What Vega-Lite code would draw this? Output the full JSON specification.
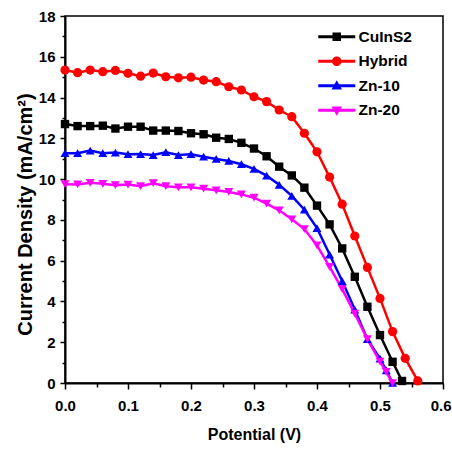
{
  "$schema": "https://vega.github.io/schema/vega-lite/v6.json",
  "width": 378,
  "height": 367,
  "autosize": {"type": "none"},
  "padding": {"left": 65, "top": 16, "right": 9, "bottom": 67},
  "background": "white",
  "config": {
    "view": {"stroke": "black", "strokeWidth": 1.5},
    "axis": {
      "grid": false,
      "domainColor": "black",
      "domainWidth": 2,
      "tickColor": "black",
      "tickWidth": 1.5,
      "labelColor": "black",
      "labelFont": "Liberation Sans",
      "labelFontWeight": "bold",
      "labelFontSize": 15,
      "titleColor": "black",
      "titleFont": "Liberation Sans",
      "titleFontWeight": "bold"
    }
  },
  "datasets": {
    "jv": [
      {"series": "CuInS2", "v": 0.00, "j": 12.7},
      {"series": "CuInS2", "v": 0.02, "j": 12.6},
      {"series": "CuInS2", "v": 0.04, "j": 12.6},
      {"series": "CuInS2", "v": 0.06, "j": 12.62},
      {"series": "CuInS2", "v": 0.08, "j": 12.48},
      {"series": "CuInS2", "v": 0.10, "j": 12.57},
      {"series": "CuInS2", "v": 0.12, "j": 12.57},
      {"series": "CuInS2", "v": 0.14, "j": 12.38},
      {"series": "CuInS2", "v": 0.16, "j": 12.38},
      {"series": "CuInS2", "v": 0.18, "j": 12.36},
      {"series": "CuInS2", "v": 0.20, "j": 12.25},
      {"series": "CuInS2", "v": 0.22, "j": 12.2},
      {"series": "CuInS2", "v": 0.24, "j": 12.03},
      {"series": "CuInS2", "v": 0.26, "j": 11.97},
      {"series": "CuInS2", "v": 0.28, "j": 11.78},
      {"series": "CuInS2", "v": 0.30, "j": 11.5},
      {"series": "CuInS2", "v": 0.32, "j": 11.12},
      {"series": "CuInS2", "v": 0.34, "j": 10.61},
      {"series": "CuInS2", "v": 0.36, "j": 10.18},
      {"series": "CuInS2", "v": 0.38, "j": 9.58},
      {"series": "CuInS2", "v": 0.40, "j": 8.7},
      {"series": "CuInS2", "v": 0.42, "j": 7.78},
      {"series": "CuInS2", "v": 0.44, "j": 6.6},
      {"series": "CuInS2", "v": 0.46, "j": 5.21},
      {"series": "CuInS2", "v": 0.48, "j": 3.74},
      {"series": "CuInS2", "v": 0.50, "j": 2.35},
      {"series": "CuInS2", "v": 0.52, "j": 1.04},
      {"series": "CuInS2", "v": 0.535, "j": 0.1},
      {"series": "Hybrid", "v": 0.00, "j": 15.35},
      {"series": "Hybrid", "v": 0.02, "j": 15.22},
      {"series": "Hybrid", "v": 0.04, "j": 15.35},
      {"series": "Hybrid", "v": 0.06, "j": 15.27},
      {"series": "Hybrid", "v": 0.08, "j": 15.33},
      {"series": "Hybrid", "v": 0.10, "j": 15.19},
      {"series": "Hybrid", "v": 0.12, "j": 15.05},
      {"series": "Hybrid", "v": 0.14, "j": 15.2},
      {"series": "Hybrid", "v": 0.16, "j": 15.02},
      {"series": "Hybrid", "v": 0.18, "j": 14.97},
      {"series": "Hybrid", "v": 0.20, "j": 15.0},
      {"series": "Hybrid", "v": 0.22, "j": 14.86},
      {"series": "Hybrid", "v": 0.24, "j": 14.78},
      {"series": "Hybrid", "v": 0.26, "j": 14.53},
      {"series": "Hybrid", "v": 0.28, "j": 14.37},
      {"series": "Hybrid", "v": 0.30, "j": 14.04},
      {"series": "Hybrid", "v": 0.32, "j": 13.8},
      {"series": "Hybrid", "v": 0.34, "j": 13.39},
      {"series": "Hybrid", "v": 0.36, "j": 13.06},
      {"series": "Hybrid", "v": 0.38, "j": 12.25},
      {"series": "Hybrid", "v": 0.40, "j": 11.34},
      {"series": "Hybrid", "v": 0.42, "j": 10.1},
      {"series": "Hybrid", "v": 0.44, "j": 8.77},
      {"series": "Hybrid", "v": 0.46, "j": 7.21},
      {"series": "Hybrid", "v": 0.48, "j": 5.67},
      {"series": "Hybrid", "v": 0.50, "j": 4.15},
      {"series": "Hybrid", "v": 0.52, "j": 2.52},
      {"series": "Hybrid", "v": 0.54, "j": 1.21},
      {"series": "Hybrid", "v": 0.56, "j": 0.1},
      {"series": "Zn-10", "v": 0.00, "j": 11.27},
      {"series": "Zn-10", "v": 0.02, "j": 11.27},
      {"series": "Zn-10", "v": 0.04, "j": 11.4},
      {"series": "Zn-10", "v": 0.06, "j": 11.27},
      {"series": "Zn-10", "v": 0.08, "j": 11.3},
      {"series": "Zn-10", "v": 0.10, "j": 11.22},
      {"series": "Zn-10", "v": 0.12, "j": 11.23},
      {"series": "Zn-10", "v": 0.14, "j": 11.18},
      {"series": "Zn-10", "v": 0.16, "j": 11.32},
      {"series": "Zn-10", "v": 0.18, "j": 11.18},
      {"series": "Zn-10", "v": 0.20, "j": 11.22},
      {"series": "Zn-10", "v": 0.22, "j": 11.1},
      {"series": "Zn-10", "v": 0.24, "j": 10.99},
      {"series": "Zn-10", "v": 0.26, "j": 10.89},
      {"series": "Zn-10", "v": 0.28, "j": 10.73},
      {"series": "Zn-10", "v": 0.30, "j": 10.5},
      {"series": "Zn-10", "v": 0.32, "j": 10.17},
      {"series": "Zn-10", "v": 0.34, "j": 9.72},
      {"series": "Zn-10", "v": 0.36, "j": 9.18},
      {"series": "Zn-10", "v": 0.38, "j": 8.5},
      {"series": "Zn-10", "v": 0.40, "j": 7.6},
      {"series": "Zn-10", "v": 0.42, "j": 6.3},
      {"series": "Zn-10", "v": 0.44, "j": 5.0},
      {"series": "Zn-10", "v": 0.46, "j": 3.6},
      {"series": "Zn-10", "v": 0.48, "j": 2.15},
      {"series": "Zn-10", "v": 0.50, "j": 1.2},
      {"series": "Zn-10", "v": 0.51, "j": 0.62},
      {"series": "Zn-10", "v": 0.52, "j": 0.0},
      {"series": "Zn-20", "v": 0.00, "j": 9.75},
      {"series": "Zn-20", "v": 0.02, "j": 9.74},
      {"series": "Zn-20", "v": 0.04, "j": 9.82},
      {"series": "Zn-20", "v": 0.06, "j": 9.77},
      {"series": "Zn-20", "v": 0.08, "j": 9.7},
      {"series": "Zn-20", "v": 0.10, "j": 9.73},
      {"series": "Zn-20", "v": 0.12, "j": 9.65},
      {"series": "Zn-20", "v": 0.14, "j": 9.8},
      {"series": "Zn-20", "v": 0.16, "j": 9.65},
      {"series": "Zn-20", "v": 0.18, "j": 9.6},
      {"series": "Zn-20", "v": 0.20, "j": 9.6},
      {"series": "Zn-20", "v": 0.22, "j": 9.53},
      {"series": "Zn-20", "v": 0.24, "j": 9.45},
      {"series": "Zn-20", "v": 0.26, "j": 9.37},
      {"series": "Zn-20", "v": 0.28, "j": 9.25},
      {"series": "Zn-20", "v": 0.30, "j": 9.09},
      {"series": "Zn-20", "v": 0.32, "j": 8.8},
      {"series": "Zn-20", "v": 0.34, "j": 8.47},
      {"series": "Zn-20", "v": 0.36, "j": 8.03},
      {"series": "Zn-20", "v": 0.38, "j": 7.55},
      {"series": "Zn-20", "v": 0.40, "j": 6.75},
      {"series": "Zn-20", "v": 0.42, "j": 5.7},
      {"series": "Zn-20", "v": 0.44, "j": 4.6},
      {"series": "Zn-20", "v": 0.46, "j": 3.4},
      {"series": "Zn-20", "v": 0.48, "j": 2.15},
      {"series": "Zn-20", "v": 0.50, "j": 1.05},
      {"series": "Zn-20", "v": 0.51, "j": 0.55},
      {"series": "Zn-20", "v": 0.52, "j": 0.0}
    ]
  },
  "data": {"name": "jv"},
  "resolve": {"axis": {"x": "independent", "y": "independent"}},
  "layer": [
    {
      "mark": {"type": "line", "strokeWidth": 2.5},
      "encoding": {
        "x": {
          "field": "v", "type": "quantitative",
          "scale": {"domain": [0, 0.6], "nice": false, "zero": false},
          "axis": {
            "orient": "bottom",
            "values": [0, 0.1, 0.2, 0.3, 0.4, 0.5, 0.6],
            "format": ".1f",
            "tickSize": 6,
            "labelPadding": 9,
            "labelFlush": false,
            "labelFontSize": 15,
            "labelAlign": {"condition": {"test": "datum.value >= 0.59", "value": "right"}, "value": "center"},
            "labelOffset": {"condition": {"test": "datum.value >= 0.59", "value": 8}, "value": 0},
            "title": "Potential (V)",
            "titleFontSize": 16,
            "titlePadding": 13
          }
        },
        "y": {
          "field": "j", "type": "quantitative",
          "scale": {"domain": [0, 18], "nice": false, "zero": false},
          "axis": {
            "orient": "left",
            "values": [0, 2, 4, 6, 8, 10, 12, 14, 16, 18],
            "format": "d",
            "tickSize": 5,
            "labelPadding": 5,
            "labelFlush": false,
            "labelFontSize": 15,
            "title": "Current Density (mA/cm²)",
            "titleFontSize": 20,
            "titleAngle": -90,
            "titleAlign": "center",
            "titleBaseline": "middle",
            "titleX": -40,
            "titleY": 198
          }
        },
        "color": {
          "field": "series", "type": "nominal",
          "scale": {"domain": ["CuInS2", "Hybrid", "Zn-10", "Zn-20"], "range": ["#000000", "#ff0000", "#0000ff", "#ff00ff"]},
          "legend": {
            "title": null,
            "orient": "none",
            "legendX": 264,
            "legendY": 13,
            "padding": 0,
            "symbolSize": 100,
            "symbolStrokeWidth": 0,
            "symbolOpacity": 1,
            "labelOffset": 14,
            "rowPadding": 7.5,
            "labelFont": "Liberation Sans",
            "labelFontWeight": "bold",
            "labelFontSize": 15.5,
            "labelColor": "black",
            "encode": {
              "symbols": {
                "update": {
                  "shape": {"signal": "datum.value === 'CuInS2' ? 'M-3.7,-0.3H3.7V0.3H-3.7Z M-0.85,-0.85H0.85V0.85H-0.85Z' : datum.value === 'Hybrid' ? 'M-3.7,-0.3H3.7V0.3H-3.7Z M-0.95,0A0.95,0.95,0,1,1,0.95,0A0.95,0.95,0,1,1,-0.95,0Z' : datum.value === 'Zn-10' ? 'M-3.7,-0.3H3.7V0.3H-3.7Z M0,-1.1L1.05,0.75H-1.05Z' : 'M-3.7,-0.3H3.7V0.3H-3.7Z M0,1.1L-1.05,-0.75H1.05Z'"},
                  "fill": {"scale": "color", "field": "value"},
                  "strokeWidth": {"value": 0},
                  "opacity": {"value": 1}
                }
              }
            }
          }
        }
      }
    },
    {
      "transform": [{"filter": "datum.series === 'CuInS2'"}],
      "mark": {"type": "point", "shape": "square", "filled": true, "size": 70, "opacity": 1},
      "encoding": {
        "x": {"field": "v", "type": "quantitative", "axis": null},
        "y": {"field": "j", "type": "quantitative", "axis": null},
        "color": {"field": "series", "type": "nominal", "legend": null}
      }
    },
    {
      "transform": [{"filter": "datum.series === 'Hybrid'"}],
      "mark": {"type": "point", "shape": "circle", "filled": true, "size": 85, "opacity": 1},
      "encoding": {
        "x": {"field": "v", "type": "quantitative", "axis": null},
        "y": {"field": "j", "type": "quantitative", "axis": null},
        "color": {"field": "series", "type": "nominal", "legend": null}
      }
    },
    {
      "transform": [{"filter": "datum.series === 'Zn-10'"}],
      "mark": {"type": "point", "shape": "triangle-up", "filled": true, "size": 80, "opacity": 1},
      "encoding": {
        "x": {"field": "v", "type": "quantitative", "axis": null},
        "y": {"field": "j", "type": "quantitative", "axis": null},
        "color": {"field": "series", "type": "nominal", "legend": null}
      }
    },
    {
      "transform": [{"filter": "datum.series === 'Zn-20'"}],
      "mark": {"type": "point", "shape": "triangle-down", "filled": true, "size": 80, "opacity": 1},
      "encoding": {
        "x": {"field": "v", "type": "quantitative", "axis": null},
        "y": {"field": "j", "type": "quantitative", "axis": null},
        "color": {"field": "series", "type": "nominal", "legend": null}
      }
    },
    {
      "transform": [{"filter": "false"}],
      "mark": {"type": "point", "filled": true, "opacity": 0},
      "encoding": {
        "x": {
          "field": "v", "type": "quantitative",
          "axis": {
            "orient": "bottom",
            "values": [0.05, 0.15, 0.25, 0.35, 0.45, 0.55],
            "tickSize": 4,
            "labels": false,
            "domain": false,
            "title": null
          }
        },
        "y": {
          "field": "j", "type": "quantitative",
          "axis": {
            "orient": "left",
            "values": [1, 3, 5, 7, 9, 11, 13, 15, 17],
            "tickSize": 3,
            "labels": false,
            "domain": false,
            "title": null
          }
        }
      }
    }
  ]
}
